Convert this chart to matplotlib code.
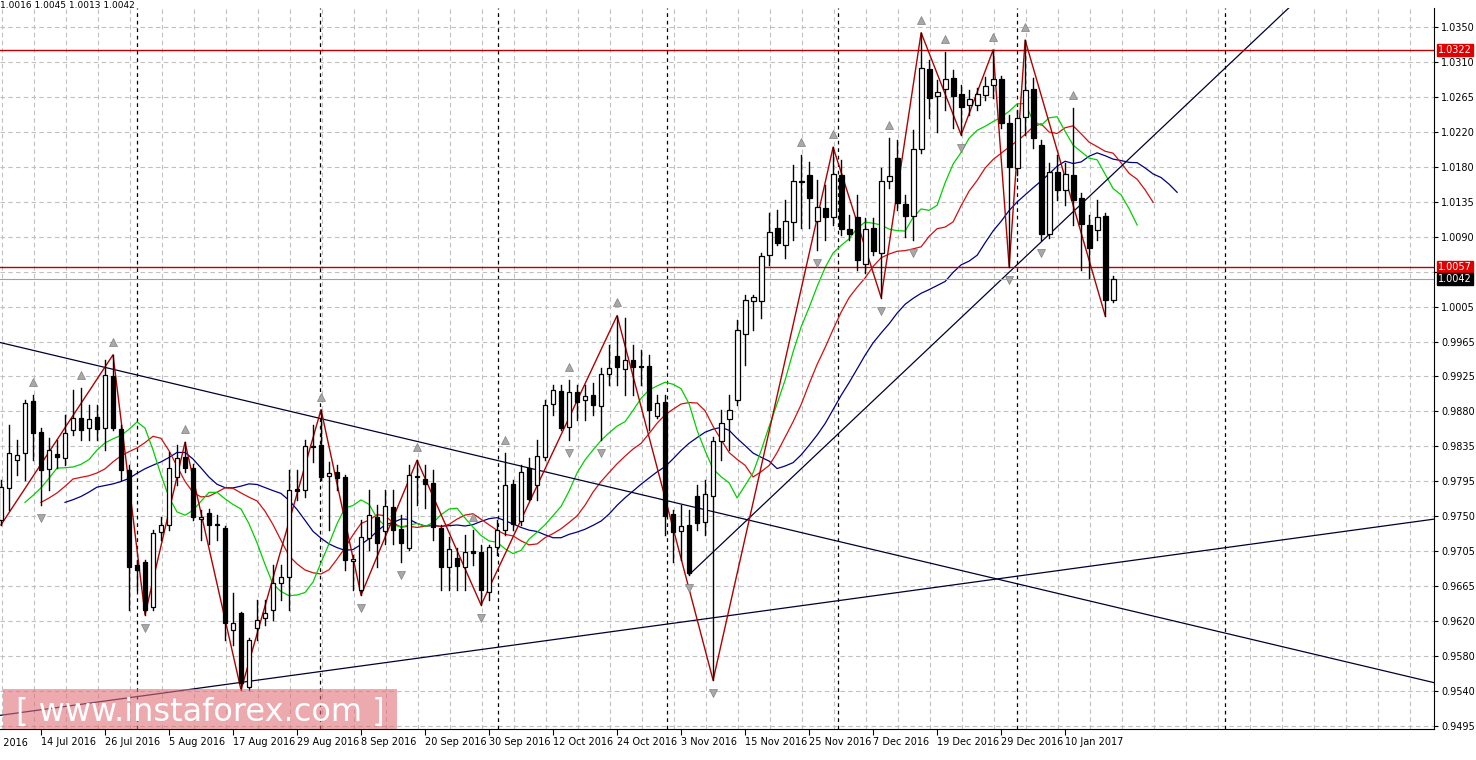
import numpy as np
import matplotlib
matplotlib.use("Agg")
import matplotlib.pyplot as plt
from matplotlib.patches import Rectangle

# ---- data (EURUSD-like daily OHLC) ----
opens = [0.9747,0.9786,0.9820,0.9829,0.9893,0.9855,0.9809,0.9828,0.9823,0.9857,
         0.9872,0.9860,0.9873,0.9860,0.9923,0.9858,0.9808,0.9692,0.9696,0.9641,
         0.9732,0.9741,0.9800,0.9824,0.9811,0.9748,0.9756,0.9742,0.9737,0.9613,
         0.9633,0.9543,0.9615,0.9627,0.9637,0.9670,0.9677,0.9785,0.9784,0.9836,
         0.9839,0.9801,0.9806,0.9800,0.9697,0.9661,0.9725,0.9751,0.9734,0.9763,
         0.9736,0.9713,0.9800,0.9797,0.9792,0.9737,0.9690,0.9701,0.9690,0.9709,
         0.9708,0.9659,0.9714,0.9735,0.9791,0.9746,0.9811,0.9790,0.9824,0.9889,
         0.9905,0.9861,0.9904,0.9894,0.9900,0.9886,0.9925,0.9948,0.9932,0.9943,
         0.9935,0.9935,0.9874,0.9891,0.9754,0.9734,0.9741,0.9776,0.9745,0.9776,
         0.9844,0.9871,0.9894,0.9975,1.0015,1.0015,1.0071,1.0104,1.0083,1.0112,
         1.0162,1.0169,1.0113,1.0129,1.0118,1.0169,1.0103,1.0118,1.0060,1.0104,
         1.0074,1.0162,1.0190,1.0134,1.0119,1.0201,1.0299,1.0266,1.0274,1.0288,
         1.0268,1.0255,1.0255,1.0267,1.0279,1.0286,1.0233,1.0178,1.0240,1.0274,
         1.0206,1.0097,1.0173,1.0151,1.0169,1.0141,1.0108,1.0102,1.0119,1.0016]
highs = [0.9796,0.9863,0.9845,0.9894,0.9900,0.9860,0.9847,0.9845,0.9875,0.9906,
         0.9908,0.9888,0.9888,0.9943,0.9949,0.9863,0.9814,0.9698,0.9698,0.9735,
         0.9751,0.9830,0.9839,0.9842,0.9815,0.9759,0.9760,0.9753,0.9740,0.9658,
         0.9635,0.9602,0.9649,0.9649,0.9692,0.9692,0.9808,0.9808,0.9845,0.9863,
         0.9882,0.9818,0.9814,0.9802,0.9704,0.9747,0.9784,0.9765,0.9784,0.9784,
         0.9753,0.9814,0.9820,0.9814,0.9808,0.9741,0.9726,0.9713,0.9729,0.9735,
         0.9716,0.9716,0.9747,0.9829,0.9796,0.9814,0.9823,0.9845,0.9894,0.9912,
         0.9912,0.9918,0.9912,0.9912,0.9915,0.9933,0.9961,0.9997,0.9994,0.9961,
         0.9955,0.9949,0.9900,0.9900,0.9759,0.9765,0.9759,0.9790,0.9796,0.9849,
         0.9882,0.9900,0.9992,1.0022,1.0022,1.0074,1.0122,1.0126,1.0138,1.0181,
         1.0193,1.0185,1.0163,1.0157,1.0203,1.0187,1.0120,1.0145,1.0116,1.0116,
         1.0178,1.0214,1.0212,1.0145,1.0224,1.0343,1.0310,1.0285,1.0319,1.0297,
         1.0279,1.0273,1.0275,1.0289,1.0322,1.0290,1.0242,1.0248,1.0334,1.0288,
         1.0212,1.0184,1.0193,1.0184,1.0251,1.0147,1.0120,1.0138,1.0122,1.0045]
lows = [0.9741,0.9759,0.9802,0.9796,0.9820,0.9765,0.9784,0.9811,0.9814,0.9851,
        0.9845,0.9845,0.9845,0.9833,0.9857,0.9796,0.9637,0.9661,0.9631,0.9637,
        0.9723,0.9735,0.9790,0.9806,0.9747,0.9723,0.9717,0.9723,0.9600,0.9594,
        0.9539,0.9539,0.9600,0.9619,0.9625,0.9649,0.9637,0.9772,0.9775,0.9818,
        0.9796,0.9735,0.9784,0.9686,0.9661,0.9655,0.9710,0.9690,0.9717,0.9717,
        0.9696,0.9710,0.9765,0.9762,0.9723,0.9661,0.9661,0.9661,0.9661,0.9692,
        0.9643,0.9649,0.9704,0.9729,0.9735,0.9741,0.9772,0.9772,0.9820,0.9875,
        0.9857,0.9845,0.9869,0.9869,0.9875,0.9845,0.9912,0.9912,0.9900,0.9900,
        0.9912,0.9857,0.9872,0.9729,0.9696,0.9698,0.9680,0.9735,0.9729,0.9551,
        0.9820,0.9833,0.9888,0.9937,0.9979,0.9994,1.0059,1.0083,1.0067,1.0089,
        1.0104,1.0104,1.0077,1.0089,1.0108,1.0096,1.0089,1.0053,1.0049,1.0071,
        1.0019,1.0153,1.0126,1.0093,1.0089,1.0196,1.0239,1.0222,1.0248,1.0226,
        1.0218,1.0242,1.0248,1.0261,1.0263,1.0226,1.0057,1.0169,1.0218,1.0202,
        1.0089,1.0092,1.0138,1.0132,1.0108,1.0053,1.0043,1.0089,0.9997,1.0013]
closes = [0.9787,0.9829,0.9827,0.9890,0.9853,0.9808,0.9833,0.9824,0.9853,0.9872,
          0.9857,0.9871,0.9858,0.9924,0.9860,0.9808,0.9690,0.9686,0.9637,0.9731,
          0.9741,0.9811,0.9823,0.9811,0.9751,0.9751,0.9741,0.9741,0.9621,0.9621,
          0.9548,0.9600,0.9625,0.9633,0.9670,0.9677,0.9784,0.9783,0.9838,0.9838,
          0.9800,0.9805,0.9798,0.9698,0.9699,0.9726,0.9753,0.9719,0.9764,0.9735,
          0.9719,0.9802,0.9801,0.9791,0.9738,0.9690,0.9712,0.9691,0.9708,0.9707,
          0.9661,0.9714,0.9735,0.9790,0.9742,0.9806,0.9773,0.9825,0.9888,0.9906,
          0.9860,0.9904,0.9891,0.9899,0.9888,0.9926,0.9933,0.9934,0.9943,0.9934,
          0.9934,0.9882,0.9890,0.9752,0.9732,0.9740,0.9682,0.9743,0.9779,0.9844,
          0.9866,0.9882,0.9979,1.0016,1.0020,1.0070,1.0099,1.0086,1.0113,1.0162,
          1.0160,1.0141,1.0130,1.0118,1.0170,1.0103,1.0097,1.0065,1.0103,1.0076,
          1.0162,1.0168,1.0135,1.0119,1.0201,1.0300,1.0263,1.0270,1.0286,1.0266,
          1.0252,1.0262,1.0268,1.0278,1.0286,1.0233,1.0179,1.0239,1.0273,1.0214,
          1.0097,1.0173,1.0151,1.0170,1.0138,1.0109,1.0080,1.0118,1.0016,1.0042]

zigzag_idx = [0, 14, 18, 23, 30, 40, 45, 52, 60, 77, 89, 104, 110, 115, 120, 124, 126, 128, 138]
zigzag_price = [0.9741, 0.9949, 0.9631, 0.9842, 0.9539, 0.9882, 0.9655, 0.9820, 0.9643, 0.9997,
                0.9551, 1.0203, 1.0019, 1.0343, 1.0218, 1.0322, 1.0057, 1.0334, 0.9997]

trend_lines = [((-0.1, 0.9964), (179.1, 0.9548)),
               ((-0.1, 0.9508), (179.1, 0.9748)),
               ((86.0, 0.9680), (162.0, 1.0383))]
hlines_red = [1.0322, 1.0057]
current_price = 1.0042
separators = [17, 39.9, 62.1, 83.2, 104.6, 127, 153]

date_labels = ["4 Jul 2016", "14 Jul 2016", "26 Jul 2016", "5 Aug 2016", "17 Aug 2016", "29 Aug 2016",
               "8 Sep 2016", "20 Sep 2016", "30 Sep 2016", "12 Oct 2016", "24 Oct 2016",
               "3 Nov 2016", "15 Nov 2016", "25 Nov 2016", "7 Dec 2016", "19 Dec 2016",
               "29 Dec 2016", "10 Jan 2017"]
date_label_idx = [-3 + 8 * k for k in range(len(date_labels))]
price_labels = ["0.9495", "0.9540", "0.9580", "0.9620", "0.9665", "0.9705", "0.9750", "0.9795",
                "0.9835", "0.9880", "0.9925", "0.9965", "1.0005", "", "1.0090", "1.0135",
                "1.0180", "1.0220", "1.0265", "1.0310", "1.0350"]

o = np.array(opens); h = np.array(highs); l = np.array(lows); c = np.array(closes)
n = len(c)
idx = np.arange(n)

W, H = 1476, 760
fig = plt.figure(figsize=(W / 100, H / 100), dpi=100)
fig.patch.set_facecolor("white")
ax = fig.add_axes([0, (760 - 729) / 760, 1434 / 1476, (729 - 8) / 760])
ax.set_facecolor("white")

# grid
tick_pos = [0.9495 + k * 0.004275 for k in range(len(price_labels))]
for y in tick_pos:
    ax.axhline(y, color="#C0C0C0", lw=0.8, ls=(0, (4, 3)), zorder=0)
for gx in np.arange(1, 180, 4):
    ax.axvline(gx - 0.875, color="#C0C0C0", lw=0.8, ls=(0, (4, 3)), zorder=0)
for sx in separators:
    ax.axvline(sx, color="black", lw=0.9, ls=(0, (3, 3)), zorder=1)

# Alligator (SMMA of median price, shifted)
med = (h + l) / 2
def smma(x, p):
    out = np.empty_like(x)
    out[0] = x[0]
    for i in range(1, len(x)):
        out[i] = (out[i - 1] * (p - 1) + x[i]) / p
    return out
for p, sh, col in [(13, 8, "#000080"), (8, 5, "#D01010"), (5, 3, "#00D000")]:
    s = smma(med, p)
    ax.plot(idx + sh, s, color=col, lw=0.9, zorder=2)

# trend lines
for (x0, y0), (x1, y1) in trend_lines:
    ax.plot([x0, x1], [y0, y1], color="#000030", lw=0.9, zorder=2)

# horizontal lines
for y in hlines_red:
    ax.axhline(y, color="#C00000", lw=1.0, zorder=2)
ax.axhline(current_price, color="#A0A0A0", lw=0.8, zorder=2)

# zigzag
ax.plot(zigzag_idx, zigzag_price, color="#B00000", lw=1.0, zorder=3)

# candles
bw = 0.6
for i in range(n):
    ax.plot([i, i], [l[i], h[i]], color="black", lw=1.0, zorder=4)
    bot = min(o[i], c[i]); top = max(o[i], c[i])
    hh = max(top - bot, 0.00004)
    fc = "white" if c[i] >= o[i] else "black"
    ax.add_patch(Rectangle((i - bw / 2, bot), bw, hh, facecolor=fc, edgecolor="black", lw=0.9, zorder=5))

# fractals
off = 0.0016
for i in range(2, n - 2):
    if h[i] > max(h[i - 2], h[i - 1], h[i + 1], h[i + 2]):
        ax.plot(i, h[i] + off, marker="^", ms=6, color="#A8A8A8", mec="#808080", mew=0.5, zorder=6)
    if l[i] < min(l[i - 2], l[i - 1], l[i + 1], l[i + 2]):
        ax.plot(i, l[i] - off, marker="v", ms=6, color="#A8A8A8", mec="#808080", mew=0.5, zorder=6)

# axes styling
for s in ["top", "left"]:
    ax.spines[s].set_visible(False)
ax.spines["right"].set_color("black")
ax.spines["bottom"].set_color("black")
ax.yaxis.tick_right()
ax.set_yticks(tick_pos)
ax.set_yticklabels(price_labels, fontsize=7)
ax.tick_params(axis="y", length=3, pad=2)
ax.set_xticks(date_label_idx[1:])
ax.set_xticklabels(date_labels[1:], fontsize=7, ha="left")
ax.tick_params(axis="x", length=4, pad=2)
ax.set_xlim(-0.125, 179.1)
ax.set_ylim(0.94913, 1.03732)
# first date label, partly outside the left edge as in the reference
ax.text(date_label_idx[0] + 0.3, -0.012, date_labels[0], transform=ax.get_xaxis_transform(),
        fontsize=7, ha="left", va="top", clip_on=False)

# price tags
def tag(y, txt, bg):
    ax.annotate(txt, xy=(1.0, y), xycoords=("axes fraction", "data"), xytext=(3, 0),
                textcoords="offset points", va="center", ha="left", fontsize=7, color="white",
                bbox=dict(boxstyle="square,pad=0.08", fc=bg, ec=bg), annotation_clip=False, zorder=10)
for y in hlines_red:
    tag(y, f"{y:.4f}", "#E00000")
tag(current_price, f"{current_price:.4f}", "black")

# header
fig.text(0.0, 0.999, f"{c[-2]:.4f} {h[-1]:.4f} {l[-1]:.4f} {c[-1]:.4f}", fontsize=6.5, va="top", ha="left")

# watermark
fig.patches.append(Rectangle((3 / W, (760 - 729) / H), 394 / W, 40 / H, transform=fig.transFigure,
                             facecolor="#E07078", alpha=0.6, edgecolor="none", zorder=20))
fig.text(200 / W, (760 - 712) / H, "[ www.instaforex.com ]", fontsize=23, color="white",
         ha="center", va="center", zorder=21)

fig.savefig("out.png", dpi=100)
